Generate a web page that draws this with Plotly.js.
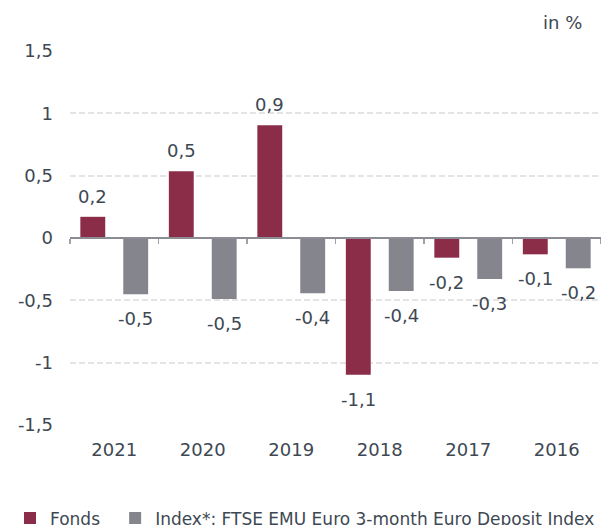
<!DOCTYPE html>
<html>
<head>
<meta charset="utf-8">
<script src="https://cdn.plot.ly/plotly-3.0.1.min.js"></script>
<style>html,body{margin:0;padding:0;background:#fff;}#chart{width:601px;height:525px;}</style>
</head>
<body>
<div id="chart"></div>
<script>
const years = ["2021", "2020", "2019", "2018", "2017", "2016"];
const fonds = [0.17, 0.535, 0.904, -1.096, -0.158, -0.131];
const index = [-0.452, -0.489, -0.444, -0.425, -0.329, -0.243];
const seriesNames = ["Fonds", "Index*: FTSE EMU Euro 3-month Euro Deposit Index"];
const yTicks = [-1.5, -1, -0.5, 0, 0.5, 1, 1.5];
const yTickLabels = ["-1,5", "-1", "-0,5", "0", "0,5", "1", "1,5"];
const unitLabel = "in %";

const textColor = "#3e4853";
const fontFam = "DejaVu Sans, Verdana, sans-serif";
const fs = 18;
const fmt = v => v.toFixed(1).replace(".", ",");

const traces = [
  {type: "bar", name: seriesNames[0], x: years, y: fonds, marker: {color: "#8b2d48"}, hoverinfo: "skip", legend: "legend"},
  {type: "bar", name: seriesNames[1], x: years, y: index, marker: {color: "#85858e"}, hoverinfo: "skip", legend: "legend2"},
  {type: "scatter", mode: "lines", x: years, y: fonds, xaxis: "x2", yaxis: "y", opacity: 0, showlegend: false, hoverinfo: "skip"}
];

const annotations = [];
[[fonds, -21.5], [index, 21.5]].forEach(([vals, dx]) => {
  vals.forEach((v, i) => {
    annotations.push({
      x: i, y: v, xref: "x", yref: "y", xshift: dx,
      yanchor: v >= 0 ? "bottom" : "top", yshift: v >= 0 ? 8 : -12,
      text: fmt(v), showarrow: false,
      font: {family: fontFam, size: fs, color: textColor}
    });
  });
});
annotations.push({
  xref: "paper", yref: "paper", x: 1, y: 1, xanchor: "right", yanchor: "bottom",
  xshift: -17, yshift: 16, text: unitLabel, showarrow: false,
  font: {family: fontFam, size: fs, color: textColor}
});

const legendBase = {orientation: "h", yanchor: "middle", y: -0.25, xanchor: "left",
  font: {family: fontFam, size: 17, color: textColor}, bgcolor: "rgba(0,0,0,0)"};

const layout = {
  width: 601, height: 525,
  margin: {l: 70, r: 0, t: 51, b: 100, autoexpand: false},
  paper_bgcolor: "#fff", plot_bgcolor: "#fff",
  font: {family: fontFam, size: fs, color: textColor},
  barmode: "group", bargap: 0.03, bargroupgap: 0.42,
  showlegend: true,
  legend: Object.assign({}, legendBase, {x: -0.113}),
  legend2: Object.assign({}, legendBase, {x: 0.085}),
  xaxis: {type: "category", categoryorder: "array", categoryarray: years, range: [-0.5, 5.5],
          showline: false, showgrid: false, zeroline: false, ticks: "", automargin: false,
          tickfont: {family: fontFam, size: fs, color: textColor}, ticklabelstandoff: 12},
  xaxis2: {type: "category", categoryorder: "array", categoryarray: years, range: [-0.5, 5.5], overlaying: "x",
           anchor: "free", position: 0.5, side: "bottom", automargin: false,
           showline: true, linecolor: "#8c8c94", linewidth: 2, showgrid: false, zeroline: false,
           ticks: "outside", tickson: "boundaries", ticklen: 5, tickcolor: "#a0a0a8", tickwidth: 1.5,
           showticklabels: false},
  yaxis: {range: [-1.5, 1.5], tickvals: yTicks, ticktext: yTickLabels, automargin: false,
          showgrid: true, gridcolor: "#e4e4e4", gridwidth: 2, griddash: "6px,3px",
          zeroline: false, showline: false, ticks: "", ticklabelstandoff: 16,
          tickfont: {family: fontFam, size: fs, color: textColor}},
  annotations: annotations
};

Plotly.newPlot("chart", traces, layout, {displayModeBar: false, staticPlot: true});
</script>
</body>
</html>
